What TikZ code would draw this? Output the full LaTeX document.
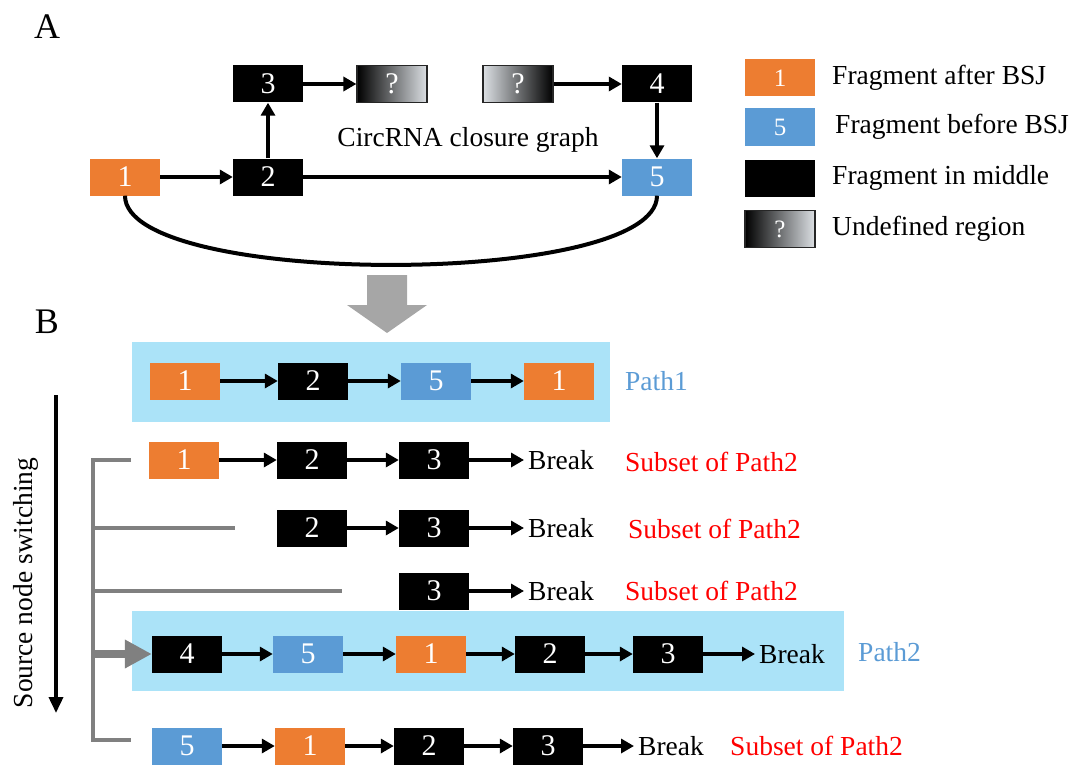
\documentclass[tikz,border=0pt]{standalone}
\usepackage{fontspec}
\setmainfont{Liberation Serif}
\usetikzlibrary{arrows.meta}
\definecolor{fragorange}{HTML}{ED7D31}
\definecolor{fragblue}{HTML}{5B9BD5}
\definecolor{pathbg}{HTML}{ABE3F8}
\definecolor{bracketgray}{HTML}{808080}
\definecolor{bigarrow}{HTML}{A6A6A6}
\definecolor{undeflight}{HTML}{DCE0E4}

\begin{document}
\begin{tikzpicture}[x=1pt,y=-1pt,
  font=\fontsize{27.5}{31}\selectfont,
  frag/.style={minimum width=70pt,minimum height=37pt,inner sep=0pt,text=white,
    font=\fontsize{30}{32}\selectfont},
  after/.style={frag,fill=fragorange},
  before/.style={frag,fill=fragblue},
  middle/.style={frag,fill=black},
  undefdark/.style={frag,draw=black!85,line width=1.2pt,left color=black,right color=undeflight},
  undeflite/.style={frag,draw=black!85,line width=1.2pt,left color=undeflight,right color=black},
  link/.style={line width=3.6pt,-{Triangle[length=13pt,width=14pt]}},
  brk/.style={anchor=west,inner sep=4pt},
  subset/.style={anchor=west,inner sep=0pt,text=red},
  pathlabel/.style={anchor=west,inner sep=0pt,text=fragblue},
  legendtext/.style={anchor=west,inner sep=0pt},
  legendfont/.style={font=\fontsize{25}{28}\selectfont},
  bracket/.style={line width=4pt,bracketgray},
  panel/.style={font=\fontsize{36}{40}\selectfont},
]
\useasboundingbox (0,0) rectangle (1078,765);

% ---------- panel A : closure graph ----------
\node[panel] (labA) at (47,27) {A};
\node[after]  (a1) at (125,177) {1};
\node[middle] (a2) at (268,177) {2};
\node[middle] (a3) at (268,84)  {3};
\node[undefdark] (q1) at (392,84) {?};
\node[undeflite] (q2) at (518,84) {?};
\node[middle] (a4) at (657,84)  {4};
\node[before] (a5) at (657,177) {5};
\node (title) at (468,140) {CircRNA closure graph};

\draw[link] (a1) -- (a2);
\draw[link] (a2) -- (a5);
\draw[link] (a2) -- (a3);
\draw[link] (a3) -- (q1);
\draw[link] (q2) -- (a4);
\draw[link] (a4) -- (a5);
\draw[line width=4pt] (a1.south) .. controls (125,288) and (657,288) .. (a5.south);

% ---------- legend ----------
\node[after,legendfont]  (k1) at (780,78)  {1};
\node[before,legendfont] (k2) at (780,127) {5};
\node[middle,legendfont] (k3) at (780,178) {};
\node[undefdark,legendfont] (k4) at (780,229) {?};
\node[legendtext] (t1) at (832,78)  {Fragment after BSJ};
\node[legendtext] (t2) at (835,127) {Fragment before BSJ};
\node[legendtext] (t3) at (832,178) {Fragment in middle};
\node[legendtext] (t4) at (832,229) {Undefined region};

% ---------- transition arrow ----------
\fill[bigarrow] (367,275) -- (407,275) -- (407,305) -- (427,305) -- (387,333)
  -- (347,305) -- (367,305) -- cycle;

% ---------- panel B : paths ----------
\node[panel] (labB) at (47,322) {B};

\fill[pathbg] (132,342) rectangle (610,422);
\fill[pathbg] (132,611) rectangle (844,691);

% Path1
\node[after]  (p1a) at (185,381) {1};
\node[middle] (p1b) at (313,381) {2};
\node[before] (p1c) at (436,381) {5};
\node[after]  (p1d) at (559,381) {1};
\draw[link] (p1a) -- (p1b);
\draw[link] (p1b) -- (p1c);
\draw[link] (p1c) -- (p1d);
\node[pathlabel] (l1) at (625,381) {Path1};

% start at 1
\node[after]  (r1a) at (184,460) {1};
\node[middle] (r1b) at (312,460) {2};
\node[middle] (r1c) at (434,460) {3};
\node[brk] (r1x) at (524,460) {Break};
\draw[link] (r1a) -- (r1b);
\draw[link] (r1b) -- (r1c);
\draw[link] (r1c) -- (r1x);
\node[subset] (s1) at (625,462) {Subset of Path2};

% start at 2
\node[middle] (r2b) at (312,528) {2};
\node[middle] (r2c) at (434,528) {3};
\node[brk] (r2x) at (524,528) {Break};
\draw[link] (r2b) -- (r2c);
\draw[link] (r2c) -- (r2x);
\node[subset] (s2) at (628,529) {Subset of Path2};

% start at 3
\node[middle] (r3c) at (434,591) {3};
\node[brk] (r3x) at (524,591) {Break};
\draw[link] (r3c) -- (r3x);
\node[subset] (s3) at (625,591) {Subset of Path2};

% Path2 (start at 4)
\node[middle] (p2a) at (187,654) {4};
\node[before] (p2b) at (308,654) {5};
\node[after]  (p2c) at (431,654) {1};
\node[middle] (p2d) at (550,654) {2};
\node[middle] (p2e) at (668,654) {3};
\node[brk] (p2x) at (755,654) {Break};
\draw[link] (p2a) -- (p2b);
\draw[link] (p2b) -- (p2c);
\draw[link] (p2c) -- (p2d);
\draw[link] (p2d) -- (p2e);
\draw[link] (p2e) -- (p2x);
\node[pathlabel] (l2) at (858,652) {Path2};

% start at 5
\node[before] (r5a) at (187,746) {5};
\node[after]  (r5b) at (310,746) {1};
\node[middle] (r5c) at (429,746) {2};
\node[middle] (r5d) at (548,746) {3};
\node[brk] (r5x) at (634,746) {Break};
\draw[link] (r5a) -- (r5b);
\draw[link] (r5b) -- (r5c);
\draw[link] (r5c) -- (r5d);
\draw[link] (r5d) -- (r5x);
\node[subset] (s5) at (730,746) {Subset of Path2};

% ---------- source node switching ----------
\node[rotate=90] (switch) at (26,583) {Source node switching};
\coordinate (swtop) at (56,395);
\coordinate (swbot) at (56,713);
\draw[line width=3.6pt,-{Triangle[length=16pt,width=14pt]}] (swtop) -- (swbot);

\coordinate (bt) at (93,460);
\coordinate (bb) at (93,740);
\draw[bracket] (131,460) -- (bt) -- (bb) -- (131,740);
\draw[bracket] (93,528) -- (235,528);
\draw[bracket] (93,591) -- (342,591);
\draw[bracketgray,line width=8pt,-{Triangle[length=27pt,width=27pt]}] (93,654) -- (p2a.west);
\end{tikzpicture}
\end{document}
